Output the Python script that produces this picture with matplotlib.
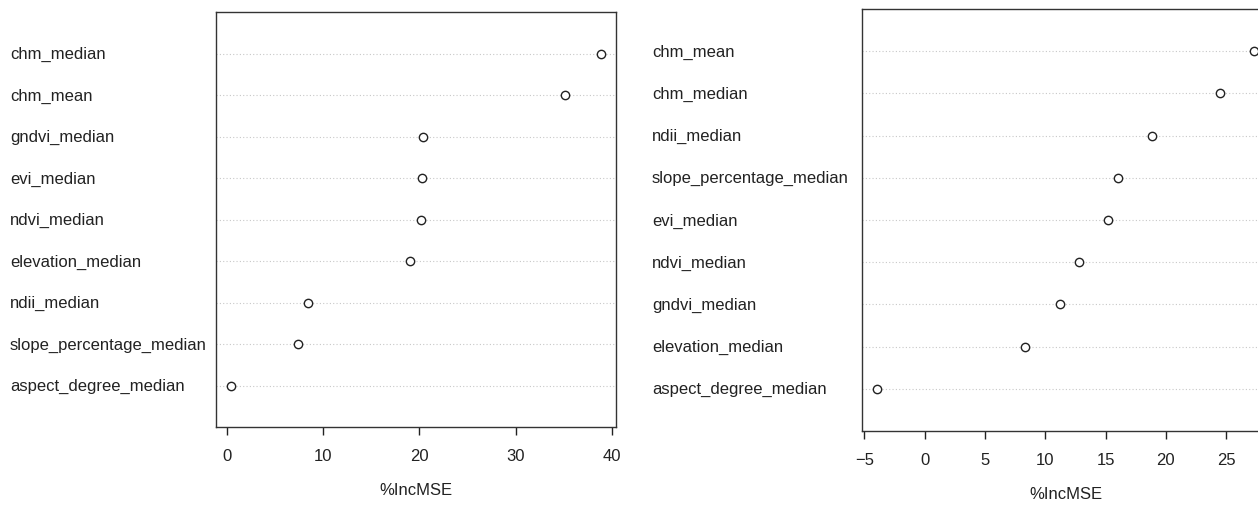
import matplotlib.pyplot as plt
import matplotlib.transforms as mtransforms

plt.rcParams['font.family'] = ['Liberation Sans', 'DejaVu Sans']

# left panel (top to bottom)
left_vars = ['chm_median', 'chm_mean', 'gndvi_median', 'evi_median', 'ndvi_median',
             'elevation_median', 'ndii_median', 'slope_percentage_median',
             'aspect_degree_median']
left_vals = [38.9, 35.1, 20.4, 20.3, 20.2, 19.0, 8.4, 7.4, 0.4]
left_ticks = [0, 10, 20, 30, 40]

# right panel (top to bottom)
right_vars = ['chm_mean', 'chm_median', 'ndii_median', 'slope_percentage_median',
              'evi_median', 'ndvi_median', 'gndvi_median', 'elevation_median',
              'aspect_degree_median']
right_vals = [27.3, 24.5, 18.85, 16.0, 15.2, 12.8, 11.2, 8.3, -3.95]
right_ticks = [-5, 0, 5, 10, 15, 20, 25]

W, H = 1258, 510
fig = plt.figure(figsize=(W / 100, H / 100), dpi=100)


def dotchart(rect, names, vals, ticks, label_x, labelpad):
    ax = fig.add_axes(rect)
    n = len(names)
    ys = list(range(n - 1, -1, -1))
    lo, hi = min(vals), max(vals)
    pad = 0.04 * (hi - lo)
    ax.set_xlim(lo - pad, hi + pad)
    ax.set_ylim(-1, n)
    for y in ys:
        ax.axhline(y, color='#c8c8c8', lw=0.8, ls=(0, (1, 2)), zorder=1)
    ax.plot(vals, ys, 'o', mfc='white', mec='#222222', mew=1.0, ms=6,
            ls='none', zorder=3)
    ax.set_yticks([])
    ax.set_xticks(ticks)
    ax.tick_params(axis='x', length=6, width=1, pad=9, labelsize=12,
                   colors='#222222')
    for s in ax.spines.values():
        s.set_color('#333333')
        s.set_linewidth(1.0)
    ax.set_xlabel('%IncMSE', fontsize=12, labelpad=labelpad, color='#222222')
    trans = mtransforms.blended_transform_factory(fig.transFigure, ax.transData)
    for name, y in zip(names, ys):
        ax.text(label_x / W, y, name, transform=trans, ha='left', va='center',
                fontsize=12, color='#222222', clip_on=False)
    return ax


dotchart([216 / W, 1 - 428 / H, 400 / W, 415 / H], left_vars, left_vals,
         left_ticks, 10, 14)
dotchart([862 / W, 1 - 432 / H, 407 / W, 422 / H], right_vars, right_vals,
         right_ticks, 652, 14)

fig.savefig('out.png', dpi=100)
